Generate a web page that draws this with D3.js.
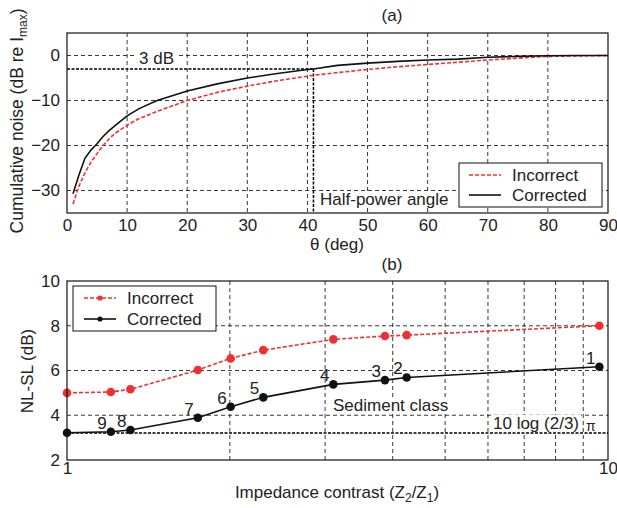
<!DOCTYPE html>
<html>
<head>
<meta charset="utf-8">
<script src="https://cdn.jsdelivr.net/npm/d3@7"></script>
<style>
  body { margin: 0; background: #fff; }
  text { font-family: "Liberation Sans", Arial, sans-serif; fill: #222; }
</style>
</head>
<body>
<script>
// panel (a) data
const theta = [1,2,3,4,5,6,7,8,10,12,15,20,25,30,35,40,41,45,50,55,60,65,70,75,80,85,90]
const incorrectA = [-33,-29,-26,-23.7,-21.8,-20,-18.5,-17.3,-15.5,-14,-12.4,-10,-8.2,-6.8,-5.6,-4.6,-4.4,-3.8,-3.1,-2.5,-2.0,-1.5,-1.0,-0.6,-0.2,-0.1,0]
const correctedA = [-30.7,-26.5,-22.8,-21,-19.6,-18,-16.7,-15.6,-13.4,-11.8,-10,-7.9,-6.3,-5.0,-4.0,-3.1,-3.0,-2.2,-1.7,-1.3,-1.0,-0.8,-0.4,-0.2,-0.05,0,0]
const xTicksA = [0,10,20,30,40,50,60,70,80,90]
const yTicksA = [0,-10,-20,-30]
const halfPower = 41

// panel (b) data
const classes = ['', '9', '8', '7', '6', '5', '4', '3', '2', '1']
const impedance = [1.0, 1.205, 1.31, 1.745, 2.007, 2.306, 3.107, 3.87, 4.245, 9.64]
const incorrectB = [5.0, 5.04, 5.16, 6.02, 6.54, 6.91, 7.39, 7.54, 7.58, 8.0]
const correctedB = [3.22, 3.26, 3.34, 3.89, 4.38, 4.80, 5.38, 5.57, 5.69, 6.17]
const xGridB = [2,3,4,5,6,7,8,9]
const xTicksB = [1,10]
const yTicksB = [2,4,6,8,10]
const floorLevel = 10 * Math.log10(2 * Math.PI / 3)

const W = 617, H = 508
const fs = 17
const svg = d3.select('body').append('svg')
  .attr('width', W).attr('height', H)

const left = 67, right = 608

// ---------- panel (a) ----------
const xa = d3.scaleLinear().domain([0, 90]).range([left, right])
const ya = d3.scaleLinear().domain([-35, 5]).range([213, 33])

const ga = svg.append('g')

const gridStyle = sel => sel.attr('stroke', '#222').attr('stroke-width', 0.9).attr('stroke-dasharray', '4,3')

ga.selectAll('.vg').data(xTicksA.slice(1, -1)).enter().append('line')
  .attr('x1', d => xa(d)).attr('x2', d => xa(d))
  .attr('y1', ya(5)).attr('y2', ya(-35))
  .call(gridStyle)
ga.selectAll('.hg').data(yTicksA).enter().append('line')
  .attr('x1', left).attr('x2', right)
  .attr('y1', d => ya(d)).attr('y2', d => ya(d))
  .call(gridStyle)

// 3 dB markers
ga.append('line')
  .attr('x1', xa(0)).attr('x2', xa(halfPower))
  .attr('y1', ya(-3)).attr('y2', ya(-3))
  .attr('stroke', '#000').attr('stroke-width', 1.5).attr('stroke-dasharray', '3,1.5')
ga.append('line')
  .attr('x1', xa(halfPower)).attr('x2', xa(halfPower))
  .attr('y1', ya(-3)).attr('y2', ya(-35))
  .attr('stroke', '#000').attr('stroke-width', 1.5).attr('stroke-dasharray', '3,1.5')

const lineA = d3.line().x((d, i) => xa(theta[i])).y(d => ya(d))
ga.append('path').datum(incorrectA)
  .attr('d', lineA).attr('fill', 'none')
  .attr('stroke', '#f03030').attr('stroke-width', 1.6).attr('stroke-dasharray', '4,2')
ga.append('path').datum(correctedA)
  .attr('d', lineA).attr('fill', 'none')
  .attr('stroke', '#111').attr('stroke-width', 1.6)

// labels with white backing
const boxedText = (g, x, y, str, size) => {
  const t = g.append('text').attr('x', x).attr('y', y)
    .attr('font-size', size).text(str)
  const b = t.node().getBBox()
  g.insert('rect', () => t.node())
    .attr('x', b.x - 2).attr('y', b.y + 1).attr('width', b.width + 4).attr('height', b.height - 2)
    .attr('fill', '#fff')
  return t
}
boxedText(ga, 139, 64, '3 dB', fs)
boxedText(ga, 320, 205, 'Half-power angle', fs)

// legend (a)
ga.append('rect').attr('x', 459).attr('y', 163).attr('width', 143).attr('height', 44)
  .attr('fill', '#fff').attr('stroke', '#111').attr('stroke-width', 1)
ga.append('line').attr('x1', 469).attr('x2', 501).attr('y1', 175).attr('y2', 175)
  .attr('stroke', '#f03030').attr('stroke-width', 1.6).attr('stroke-dasharray', '4,2')
ga.append('line').attr('x1', 469).attr('x2', 501).attr('y1', 195).attr('y2', 195)
  .attr('stroke', '#111').attr('stroke-width', 1.6)
ga.append('text').attr('x', 512).attr('y', 181).attr('font-size', fs).text('Incorrect')
ga.append('text').attr('x', 512).attr('y', 201).attr('font-size', fs).text('Corrected')

// axes (a)
ga.append('g').attr('transform', `translate(0,${ya(-35)})`)
  .call(d3.axisBottom(xa).tickValues(xTicksA).tickSize(0).tickPadding(6))
  .call(g => g.select('.domain').remove())
  .selectAll('text').attr('font-size', fs).attr('fill', '#222')
ga.append('g').attr('transform', `translate(${left},0)`)
  .call(d3.axisLeft(ya).tickValues(yTicksA).tickSize(0).tickPadding(7))
  .call(g => g.select('.domain').remove())
  .selectAll('text').attr('font-size', fs).attr('fill', '#222')
ga.append('rect').attr('x', left).attr('y', ya(5)).attr('width', right - left).attr('height', ya(-35) - ya(5))
  .attr('fill', 'none').attr('stroke', '#111').attr('stroke-width', 1.2)

ga.append('text').attr('x', 392).attr('y', 21).attr('text-anchor', 'middle').attr('font-size', fs).text('(a)')
ga.append('text').attr('x', 337).attr('y', 250).attr('text-anchor', 'middle').attr('font-size', fs)
  .text('\u03b8 (deg)')
const yla = ga.append('text').attr('transform', 'translate(23,121) rotate(-90)')
  .attr('text-anchor', 'middle').attr('font-size', 17.5)
yla.append('tspan').text('Cumulative noise (dB re I')
yla.append('tspan').attr('font-size', 12).attr('dy', 4).text('max')
yla.append('tspan').attr('dy', -4).text(')')

// ---------- panel (b) ----------
const xb = d3.scaleLog().domain([1, 10]).range([left, right])
const yb = d3.scaleLinear().domain([2, 10]).range([460, 281])
const gb = svg.append('g')

gb.selectAll('.vg').data(xGridB).enter().append('line')
  .attr('x1', d => xb(d)).attr('x2', d => xb(d))
  .attr('y1', yb(10)).attr('y2', yb(2))
  .call(gridStyle)
gb.selectAll('.hg').data(yTicksB.slice(1, -1)).enter().append('line')
  .attr('x1', left).attr('x2', right)
  .attr('y1', d => yb(d)).attr('y2', d => yb(d))
  .call(gridStyle)

boxedText(gb, 333, 411, 'Sediment class', fs)
boxedText(gb, 493, 429, '10 log (2/3)', fs)
gb.append('text').attr('x', 586).attr('y', 431).attr('font-size', 14)
  .attr('font-family', 'DejaVu Serif, serif').text('\u03c0')

gb.append('line')
  .attr('x1', xb(1)).attr('x2', xb(10))
  .attr('y1', yb(floorLevel)).attr('y2', yb(floorLevel))
  .attr('stroke', '#000').attr('stroke-width', 1.5).attr('stroke-dasharray', '3,1.5')

const lineB = d3.line().x((d, i) => xb(impedance[i])).y(d => yb(d))
gb.append('path').datum(incorrectB)
  .attr('d', lineB).attr('fill', 'none')
  .attr('stroke', '#f03030').attr('stroke-width', 1.6).attr('stroke-dasharray', '4,2')
gb.append('path').datum(correctedB)
  .attr('d', lineB).attr('fill', 'none')
  .attr('stroke', '#111').attr('stroke-width', 1.6)
gb.selectAll('.pr').data(incorrectB).enter().append('circle')
  .attr('cx', (d, i) => xb(impedance[i])).attr('cy', d => yb(d)).attr('r', 4.3)
  .attr('fill', '#f03030')
gb.selectAll('.pc').data(correctedB).enter().append('circle')
  .attr('cx', (d, i) => xb(impedance[i])).attr('cy', d => yb(d)).attr('r', 4.3)
  .attr('fill', '#111')

// class numbers
gb.selectAll('.cl').data(classes).enter().append('text')
  .attr('x', (d, i) => xb(impedance[i]) - 4)
  .attr('y', (d, i) => yb(correctedB[i]) - 3)
  .attr('text-anchor', 'end').attr('font-size', fs)
  .text(d => d)

// legend (b)
gb.append('rect').attr('x', 73).attr('y', 286).attr('width', 143).attr('height', 45)
  .attr('fill', '#fff').attr('stroke', '#111').attr('stroke-width', 1)
gb.append('line').attr('x1', 84).attr('x2', 116).attr('y1', 298).attr('y2', 298)
  .attr('stroke', '#f03030').attr('stroke-width', 1.6).attr('stroke-dasharray', '4,2')
gb.append('circle').attr('cx', 100).attr('cy', 298).attr('r', 2.6).attr('fill', '#f03030')
gb.append('line').attr('x1', 84).attr('x2', 116).attr('y1', 319).attr('y2', 319)
  .attr('stroke', '#111').attr('stroke-width', 1.6)
gb.append('circle').attr('cx', 100).attr('cy', 319).attr('r', 2.6).attr('fill', '#111')
gb.append('text').attr('x', 127).attr('y', 304).attr('font-size', fs).text('Incorrect')
gb.append('text').attr('x', 127).attr('y', 325).attr('font-size', fs).text('Corrected')

// axes (b)
gb.append('g').attr('transform', `translate(0,${yb(2)})`)
  .call(d3.axisBottom(xb).tickValues(xTicksB).tickFormat(d3.format('d')).tickSize(0).tickPadding(2))
  .call(g => g.select('.domain').remove())
  .selectAll('text').attr('font-size', fs).attr('fill', '#222')
gb.append('g').attr('transform', `translate(${left},0)`)
  .call(d3.axisLeft(yb).tickValues(yTicksB).tickSize(0).tickPadding(7))
  .call(g => g.select('.domain').remove())
  .selectAll('text').attr('font-size', fs).attr('fill', '#222')
gb.append('rect').attr('x', left).attr('y', yb(10)).attr('width', right - left).attr('height', yb(2) - yb(10))
  .attr('fill', 'none').attr('stroke', '#111').attr('stroke-width', 1.2)

gb.append('text').attr('x', 392).attr('y', 270).attr('text-anchor', 'middle').attr('font-size', fs).text('(b)')
const xlb = gb.append('text').attr('x', 337).attr('y', 498).attr('text-anchor', 'middle').attr('font-size', fs)
xlb.append('tspan').text('Impedance contrast (Z')
xlb.append('tspan').attr('font-size', 12).attr('dy', 4).text('2')
xlb.append('tspan').attr('dy', -4).text('/Z')
xlb.append('tspan').attr('font-size', 12).attr('dy', 4).text('1')
xlb.append('tspan').attr('dy', -4).text(')')
gb.append('text').attr('transform', 'translate(33,371) rotate(-90)')
  .attr('text-anchor', 'middle').attr('font-size', fs).text('NL-SL (dB)')
</script>
</body>
</html>
